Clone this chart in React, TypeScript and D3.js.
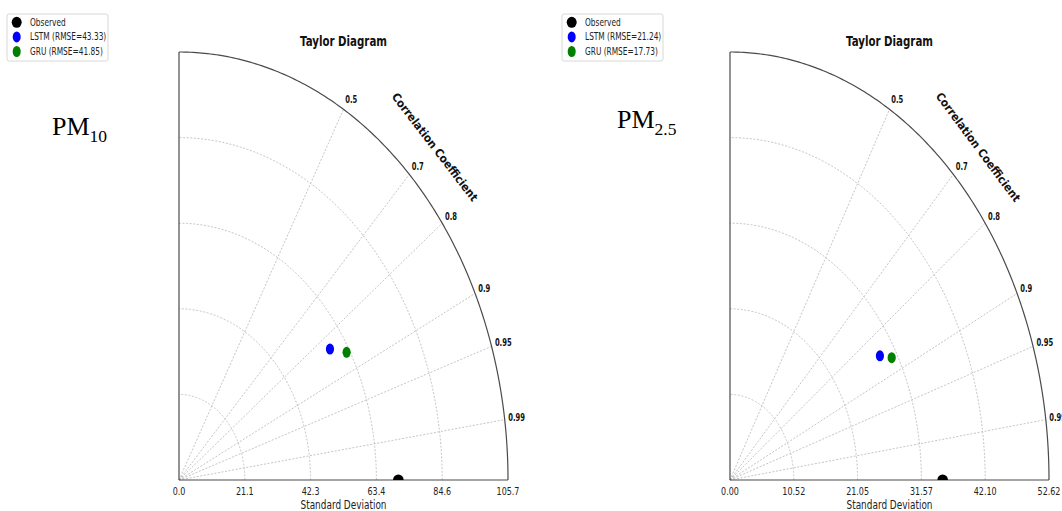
import React from "react";
import * as d3 from "d3";

// ---------- data ----------
const modelNames = ["LSTM", "GRU"];
const modelColors = ["#0000ff", "#007f00"];

const pm10Std = [58.3, 62.4];
const pm10Corr = [0.832, 0.863];
const pm10Rmse = [43.33, 41.85];
const pm10ObsStd = 70.47;
const pm10StdTicks = [0, 21.14, 42.28, 63.42, 84.56, 105.7];

const pm25Std = [29.06, 30.62];
const pm25Corr = [0.851, 0.871];
const pm25Rmse = [21.24, 17.73];
const pm25ObsStd = 35.08;
const pm25StdTicks = [0, 10.524, 21.048, 31.572, 42.096, 52.62];

const corrTicks = [0.5, 0.7, 0.8, 0.9, 0.95, 0.99];

const W = 1062;
const H = 511;
const FONT = "DejaVu Sans, sans-serif";

function T({ x, y, sx = 1, rot = 0, children, ...rest }: any) {
  return (
    <text
      transform={`translate(${x},${y}) rotate(${rot}) scale(${sx},1)`}
      fontFamily={FONT}
      {...rest}
    >
      {children}
    </text>
  );
}

function Legend({ x, y, rmse }: any) {
  const rows = [
    { label: "Observed", color: "#000", big: true },
    ...modelNames.map((m, i) => ({
      label: `${m} (RMSE=${rmse[i].toFixed(2)})`,
      color: modelColors[i],
      big: false,
    })),
  ];
  return (
    <g>
      <rect x={x} y={y} width={101} height={47} rx={2} fill="#fff" stroke="#d8d8d8" strokeWidth={1} />
      {rows.map((r, i) => (
        <g key={i}>
          <ellipse cx={x + 9.7} cy={y + 8.3 + i * 14.6} rx={r.big ? 5 : 4} ry={5.5} fill={r.color} />
          <T x={x + 23} y={y + 8.3 + i * 14.6} sx={0.72} fontSize={10.3} dominantBaseline="central" fill="#222">
            {r.label}
          </T>
        </g>
      ))}
    </g>
  );
}

function Taylor({ id, cx, cy, rx, ry, stdTicks, fmt, obsStd, std, corr, rot }: any) {
  const stdMax = stdTicks[stdTicks.length - 1];
  const sxScale = d3.scaleLinear().domain([0, stdMax]).range([0, rx]);
  const syScale = d3.scaleLinear().domain([0, stdMax]).range([0, ry]);
  const pt = (s: number, th: number): [number, number] => [
    cx + sxScale(s * Math.cos(th)),
    cy - syScale(s * Math.sin(th)),
  ];
  const arc = (s: number) =>
    d3.line()(d3.range(0, 90.01, 0.5).map((deg) => pt(s, (deg * Math.PI) / 180)));

  return (
    <g>
      <defs>
        <clipPath id={`clip-${id}`}>
          <rect x={cx - 2} y={cy - ry - 5} width={rx + 10} height={ry + 5} />
        </clipPath>
      </defs>
      {/* std grid arcs */}
      {stdTicks.slice(1, -1).map((s: number, i: number) => (
        <path key={i} d={arc(s) as string} fill="none" stroke="#bdbdbd" strokeWidth={0.9} strokeDasharray="2,1.6" />
      ))}
      {/* correlation rays */}
      {corrTicks.map((c, i) => {
        const th = Math.acos(c);
        const [x2, y2] = pt(stdMax, th);
        return (
          <line key={i} x1={cx} y1={cy} x2={x2} y2={y2} stroke="#bdbdbd" strokeWidth={0.9} strokeDasharray="2,1.6" />
        );
      })}
      {/* frame */}
      <path d={arc(stdMax) as string} fill="none" stroke="#4a4a4a" strokeWidth={1.2} />
      <line x1={cx} y1={cy} x2={cx + rx} y2={cy} stroke="#4a4a4a" strokeWidth={1.2} />
      <line x1={cx} y1={cy} x2={cx} y2={cy - ry} stroke="#4a4a4a" strokeWidth={1.2} />
      {/* corr tick labels */}
      {corrTicks.map((c, i) => {
        const th = Math.acos(c);
        const [x2, y2] = pt(stdMax, th);
        return (
          <T key={i} x={x2 + 3.5 * Math.cos(th)} y={y2 - 1 - 10 * Math.sin(th)} sx={0.68} fontSize={10} fontWeight="bold" dominantBaseline="central" fill="#111">
            {String(c)}
          </T>
        );
      })}
      {/* std tick labels */}
      {stdTicks.map((s: number, i: number) => (
        <T key={i} x={cx + sxScale(s)} y={cy + 12} sx={0.8} fontSize={10} textAnchor="middle" dominantBaseline="central" fill="#222">
          {fmt(s)}
        </T>
      ))}
      <text x={cx + rx / 2} y={cy + 28.5} fontFamily={FONT} fontSize={11.5} textAnchor="middle" textLength={86} lengthAdjust="spacingAndGlyphs" fill="#222">
        Standard Deviation
      </text>
      <text x={cx + rx / 2} y={46} fontFamily={FONT} fontSize={13.5} fontWeight="bold" textAnchor="middle" textLength={87} lengthAdjust="spacingAndGlyphs" fill="#111">
        Taylor Diagram
      </text>
      {(() => {
        const [lx, ly] = pt(stdMax * 1.1, Math.PI / 4);
        return (
          <text transform={`translate(${lx},${ly}) rotate(${rot})`} fontFamily={FONT} fontSize={11.5} fontWeight="bold" textAnchor="middle" dominantBaseline="central" textLength={133} lengthAdjust="spacingAndGlyphs" fill="#111">
            Correlation Coefficient
          </text>
        );
      })()}
      {/* points */}
      <g clipPath={`url(#clip-${id})`}>
        <ellipse cx={cx + sxScale(obsStd)} cy={cy} rx={5.3} ry={5.5} fill="#000" />
      </g>
      {std.map((s: number, i: number) => {
        const [x, y] = pt(s, Math.acos(corr[i]));
        return <ellipse key={i} cx={x} cy={y} rx={4.1} ry={5.5} fill={modelColors[i]} />;
      })}
    </g>
  );
}

export default function App() {
  return (
    <svg width={W} height={H} style={{ position: "absolute", left: 0, top: 0, background: "#fff" }}>
      <rect x={0} y={0} width={W} height={H} fill="#fff" />
      <Legend x={7} y={14} rmse={pm10Rmse} />
      <Legend x={562} y={14} rmse={pm25Rmse} />
      <text x={52} y={135} fontFamily="Liberation Serif, Times New Roman, serif" fontSize={26} fill="#000">
        PM<tspan fontSize={17.5} dy={6.7}>10</tspan>
      </text>
      <text x={617} y={128.3} fontFamily="Liberation Serif, Times New Roman, serif" fontSize={26} fill="#000">
        PM<tspan fontSize={17.5} dy={6.7}>2.5</tspan>
      </text>
      <Taylor
        id="pm10"
        cx={179}
        cy={480}
        rx={329}
        ry={428}
        stdTicks={pm10StdTicks}
        fmt={(v: number) => v.toFixed(1)}
        obsStd={pm10ObsStd}
        std={pm10Std}
        corr={pm10Corr}
        rot={52.4}
      />
      <Taylor
        id="pm25"
        cx={730}
        cy={480}
        rx={319}
        ry={428}
        stdTicks={pm25StdTicks}
        fmt={(v: number) => v.toFixed(2)}
        obsStd={pm25ObsStd}
        std={pm25Std}
        corr={pm25Corr}
        rot={53.3}
      />
    </svg>
  );
}
